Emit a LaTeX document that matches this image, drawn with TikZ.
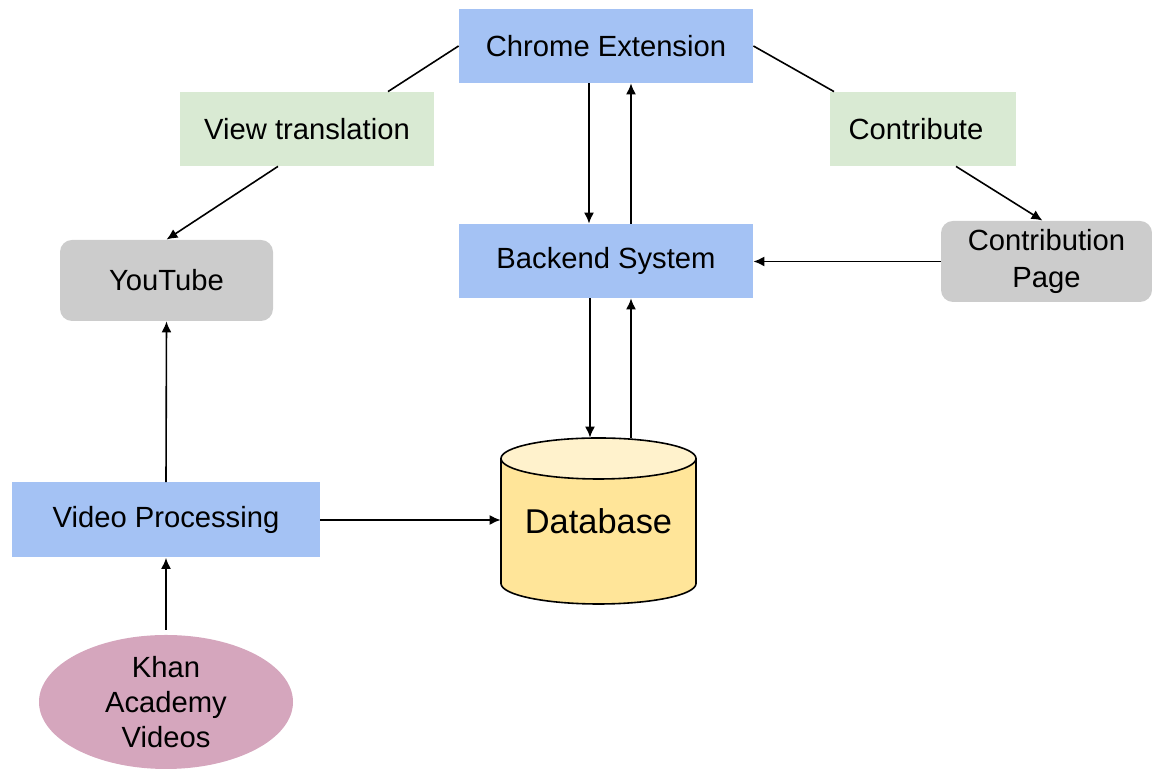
\documentclass[tikz,border=0pt]{standalone}
\usepackage{fontspec}
\setmainfont{Liberation Sans}
\usetikzlibrary{arrows.meta,shapes.geometric,positioning}
\definecolor{sysblue}{HTML}{A4C2F4}
\definecolor{actgreen}{HTML}{D9EAD3}
\definecolor{pagegray}{HTML}{CCCCCC}
\definecolor{dbbody}{HTML}{FFE599}
\definecolor{dbtop}{HTML}{FFF2CC}
\definecolor{srcpink}{HTML}{D5A6BD}
\tikzset{
  sysbox/.style={rectangle,fill=sysblue,inner sep=0pt,minimum width=147pt,minimum height=37pt,align=center},
  actbox/.style={rectangle,fill=actgreen,inner sep=0pt,minimum height=37pt,align=center},
  pagebox/.style={rectangle,rounded corners=6pt,fill=pagegray,inner sep=0pt,minimum height=40.5pt,align=center},
  flow/.style={draw,line width=0.8pt,-{Latex[length=5.5pt,width=5pt]}},
  link/.style={draw,line width=0.8pt}
}
\begin{document}
\begin{tikzpicture}[x=0.5pt,y=0.5pt,font=\fontsize{14.6}{18}\selectfont]
\useasboundingbox (0,0) rectangle (1152,769);
\node[sysbox] (chrome) at (606,723) {Chrome Extension};
\node[actbox,minimum width=127pt] (view) at (307,640) {View translation};
\node[actbox,minimum width=93pt] (contrib) at (923,640) {Contribute\hspace*{7pt}};
\node[pagebox,minimum width=106.5pt] (youtube) at (166.5,488.5) {YouTube};
\node[sysbox] (backend) at (606,508) {Backend System};
\node[pagebox,minimum width=105.5pt] (cpage) at (1046.5,507.5) {Contribution\\[0.5pt]Page};
\node[sysbox,minimum width=154pt,minimum height=37.5pt] (video) at (166,249) {Video Processing};
% database drum
\filldraw[fill=dbbody,line width=0.8pt] (501,310.5) -- (501,185.5) arc[start angle=180,end angle=360,x radius=97.5,y radius=20.5] -- (696,310.5);
\filldraw[fill=dbtop,line width=0.8pt] (598.5,310.5) ellipse[x radius=97.5,y radius=20.5];
\node[inner sep=0pt,minimum width=97.5pt,minimum height=83pt,font=\fontsize{17.2}{20}\selectfont] (db) at (598.5,248) {Database};
\node[ellipse,fill=srcpink,inner sep=0pt,minimum width=127pt,minimum height=67pt,align=center,font=\fontsize{14.6}{17.5}\selectfont] (khan) at (166,67) {Khan\\Academy\\Videos};
\coordinate (cdn) at ([xshift=-8.5pt]chrome.south);
\coordinate (cup) at ([xshift=12.5pt]chrome.south);
\coordinate (bdn) at ([xshift=-8pt]backend.south);
\coordinate (bup) at ([xshift=12.5pt]backend.south);
\draw[link] (chrome.west) -- ([xshift=40.5pt]view.north);
\draw[flow] ([xshift=-14.5pt]view.south) -- (youtube.north);
\draw[link] (chrome.east) -- ([xshift=-44.5pt]contrib.north);
\draw[flow] ([xshift=16.5pt]contrib.south) -- ([xshift=-2pt]cpage.north);
\draw[flow] (cdn) -- (cdn |- backend.north);
\draw[flow] (cup |- backend.north) -- (cup);
\draw[flow] (bdn) -- (bdn |- db.north);
\draw[flow] (bup |- db.north) -- (bup);
\draw[flow] (cpage.west) -- (cpage.west -| backend.east);
\draw[flow] (video.east) -- (video.east -| db.west);
\draw[flow] (video.north) -- (youtube.south);
\draw[flow] ([yshift=2.5pt]khan.north) -- (video.south);
\end{tikzpicture}
\end{document}
